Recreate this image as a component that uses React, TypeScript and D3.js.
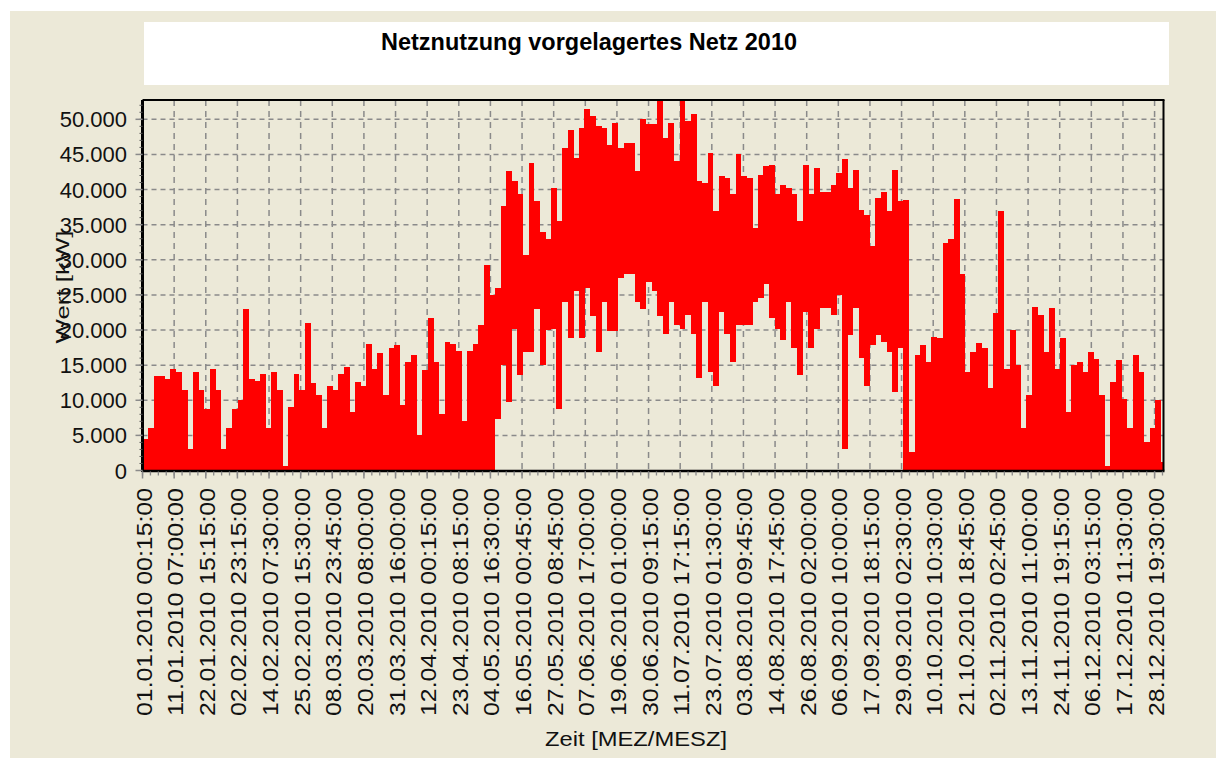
import React from "react";
import * as d3 from "d3";

const title = "Netznutzung vorgelagertes Netz 2010";
const yAxisTitle = "Wert [kW]";
const xAxisTitle = "Zeit [MEZ/MESZ]";

const binDays = 2;

// per 2-day bin: maximum of the 15-min values (kW)
const highs = [
  4500, 6000, 13500, 13500, 13000, 14500, 14000, 11500, 3000, 14000,
  11500, 8800, 14500, 11500, 3000, 6000, 8800, 10000, 23000, 13000,
  12800, 13800, 6000, 14000, 11500, 700, 9000, 13800, 11400, 21000,
  12400, 10700, 6000, 12000, 11500, 13800, 14700, 8300, 12600, 12000,
  18000, 14500, 16700, 10700, 17400, 17800,
  9300, 15500, 16400, 5000, 14300, 21700, 15500, 8000, 18300, 18000,
  17000, 7100, 17000, 18000, 20700, 29300, 25000, 26000, 37600, 42600,
  41200, 39300, 30700, 43800, 38300, 34000, 33000, 40200, 35500, 45900,
  48500, 44500, 48800, 51400, 50500, 49000, 48800, 46400, 49500, 45900,
  46600, 46600, 42600, 50000, 49300, 49300,
  52600, 47400, 49500, 44000, 52600, 49700, 50700, 41200, 41000, 45200,
  36900, 41900, 41700, 39300, 45000, 41900, 41700, 34500, 42100, 43300,
  43500, 39300, 40700, 40200, 39300, 35500, 43500, 39300, 43100, 39700,
  39700, 40700, 42400, 44300, 40200, 42800, 37100, 36400, 32000, 38800,
  39700, 36900, 42800, 38300, 38500,
  2600, 16400, 17800, 15500, 19000, 18800, 32400, 33000, 38600, 28000,
  14000, 16900, 18100, 17500, 11700, 22400, 36900, 14500, 20000, 15000,
  6000, 10700, 23300, 22100, 16900, 23100, 14500, 18800, 8300, 15000,
  15500, 14000, 16900, 15900, 10700, 700, 12600, 15700, 10200, 6000,
  16400, 14000, 4000, 6000, 10000, 1200,
];

// per 2-day bin: minimum of the 15-min values (kW)
const lows = [
  0, 0, 0, 0, 0, 0, 0, 0, 0, 0,
  0, 0, 0, 0, 0, 0, 0, 0, 0, 0,
  0, 0, 0, 0, 0, 0, 0, 0, 0, 0,
  0, 0, 0, 0, 0, 0, 0, 0, 0, 0,
  0, 0, 0, 0, 0, 0,
  0, 0, 0, 0, 0, 0, 0, 0, 0, 0,
  0, 0, 0, 0, 0, 0, 0, 7400, 15000, 9800,
  20200, 13600, 16900, 16900, 23000, 15000, 20000, 20200, 8800, 24000,
  18800, 25500, 18800, 26000, 22000, 16900, 24000, 19800, 19800, 27400,
  28000, 28000, 24000, 23000, 26900, 25500,
  22000, 19500, 24000, 20700, 20200, 22100, 19500, 13100, 24000, 14000,
  12100, 22600, 19500, 15500, 20700, 20700, 20700, 24000, 24500, 26600,
  21700, 20200, 18600, 24000, 17400, 13600, 22600, 17400, 20200, 23100,
  23100, 22100, 25000, 3100, 19300, 23100, 16000, 12100, 17800, 19300,
  18300, 16900, 11200, 17400, 0,
  0, 0, 0, 0, 0, 0, 0, 0, 0, 0,
  0, 0, 0, 0, 0, 0, 0, 0, 0, 0,
  0, 0, 0, 0, 0, 0, 0, 0, 0, 0,
  0, 0, 0, 0, 0, 0, 0, 0, 0, 0,
  0, 0, 0, 0, 0, 0,
];

const tickLabels = [
  "01.01.2010 00:15:00", "11.01.2010 07:00:00", "22.01.2010 15:15:00",
  "02.02.2010 23:15:00", "14.02.2010 07:30:00", "25.02.2010 15:30:00",
  "08.03.2010 23:45:00", "20.03.2010 08:00:00", "31.03.2010 16:00:00",
  "12.04.2010 00:15:00", "23.04.2010 08:15:00", "04.05.2010 16:30:00",
  "16.05.2010 00:45:00", "27.05.2010 08:45:00", "07.06.2010 17:00:00",
  "19.06.2010 01:00:00", "30.06.2010 09:15:00", "11.07.2010 17:15:00",
  "23.07.2010 01:30:00", "03.08.2010 09:45:00", "14.08.2010 17:45:00",
  "26.08.2010 02:00:00", "06.09.2010 10:00:00", "17.09.2010 18:15:00",
  "29.09.2010 02:30:00", "10.10.2010 10:30:00", "21.10.2010 18:45:00",
  "02.11.2010 02:45:00", "13.11.2010 11:00:00", "24.11.2010 19:15:00",
  "06.12.2010 03:15:00", "17.12.2010 11:30:00", "28.12.2010 19:30:00",
];

const yTicks = [0, 5000, 10000, 15000, 20000, 25000, 30000, 35000, 40000, 45000, 50000];
const yMaxValue = 52750;

const W = 1216;
const H = 762;
const plot = { left: 142.5, right: 1163.5, top: 100, bottom: 470.5 };

const de = d3.formatLocale({ decimal: ",", thousands: ".", grouping: [3], currency: ["", " €"] });
const fmt = de.format(",d");
const parse = d3.timeParse("%d.%m.%Y %H:%M:%S");
const yearStart = new Date(2010, 0, 1).getTime();

export default function App() {
  const x = d3.scaleLinear().domain([0, 365]).range([plot.left, plot.right]);
  const y = d3.scaleLinear().domain([0, yMaxValue]).range([plot.bottom, plot.top]);

  const labelDays = tickLabels.map((l) => ((parse(l) as Date).getTime() - yearStart) / 86400000);
  const firstDay = labelDays[0];
  const lastDay = labelDays[labelDays.length - 1];
  const step = (lastDay - firstDay) / (tickLabels.length - 1);
  const majorDays = tickLabels.map((_, i) => firstDay + i * step);
  const minorDays: number[] = [];
  for (let d = firstDay; d <= 365; d += step / 4) minorDays.push(d);
  const yMinor = d3.range(0, yMaxValue, 1000);

  const font = "'Liberation Sans', Arial, sans-serif";
  const grid = "#8a8a8a";

  return (
    <svg width={W} height={H} style={{ position: "absolute", left: 0, top: 0 }} fontFamily={font}>
      <rect x={0} y={0} width={W} height={H} fill="#ffffff" />
      <rect x={10} y={11} width={W - 10} height={747} fill="#ECE9D8" />
      <rect x={144} y={22} width={1025} height={63} fill="#ffffff" />
      <text x={589} y={50} textAnchor="middle" fontWeight="bold" fontSize={24} textLength={416} lengthAdjust="spacingAndGlyphs" fill="#000">
        {title}
      </text>

      <defs>
        <clipPath id="plotclip">
          <rect x={plot.left} y={plot.top} width={plot.right - plot.left} height={plot.bottom - plot.top} />
        </clipPath>
      </defs>

      {/* grid */}
      {yTicks.filter((t) => t > 0).map((t) => (
        <line key={"hg" + t} x1={plot.left} x2={plot.right} y1={y(t)} y2={y(t)} stroke={grid} strokeWidth={1.5} strokeDasharray="5,4" />
      ))}
      {majorDays.slice(1).map((d, i) => (
        <line key={"vg" + i} x1={x(d)} x2={x(d)} y1={plot.top} y2={plot.bottom} stroke={grid} strokeWidth={1.5} strokeDasharray="6,5" />
      ))}

      {/* data */}
      <g clipPath="url(#plotclip)" shapeRendering="crispEdges">
        {highs.map((h, i) => {
          const x0 = x(i * binDays);
          const x1 = x((i + 1) * binDays);
          const lo = lows[i];
          return (
            <rect key={"b" + i} x={x0} y={y(h)} width={x1 - x0 + 0.3} height={Math.max(1, y(lo) - y(h))} fill="#ff0000" />
          );
        })}
      </g>

      {/* frame */}
      <line x1={plot.left} x2={plot.right + 1} y1={plot.top} y2={plot.top} stroke="#000" strokeWidth={2} />
      <line x1={plot.right} x2={plot.right} y1={plot.top} y2={plot.bottom} stroke="#000" strokeWidth={2} />
      <line x1={plot.left} x2={plot.right + 1} y1={plot.bottom + 0.5} y2={plot.bottom + 0.5} stroke="#000" strokeWidth={2.5} />
      <line x1={plot.left} x2={plot.left} y1={plot.top} y2={plot.bottom + 1.5} stroke="#000" strokeWidth={3} />

      {/* y axis */}
      {yMinor.map((v) => (
        <line key={"ym" + v} x1={plot.left - 3} x2={plot.left} y1={y(v)} y2={y(v)} stroke="#555" strokeWidth={1} />
      ))}
      {yTicks.map((t) => (
        <g key={"yt" + t}>
          <line x1={plot.left - 7} x2={plot.left} y1={y(t)} y2={y(t)} stroke={grid} strokeWidth={1.5} />
          <text x={127} y={y(t) + 8} textAnchor="end" fontSize={22} fill="#111">
            {fmt(t)}
          </text>
        </g>
      ))}
      <text transform={`translate(69, 287) rotate(-90)`} textAnchor="middle" fontSize={19} textLength={113} lengthAdjust="spacingAndGlyphs" fill="#111">
        {yAxisTitle}
      </text>

      {/* x axis */}
      {minorDays.map((d, i) => (
        <line key={"xm" + i} x1={x(d)} x2={x(d)} y1={plot.bottom + 1} y2={plot.bottom + 5} stroke={grid} strokeWidth={1.3} />
      ))}
      {majorDays.map((d, i) => (
        <g key={"xt" + i}>
          <line x1={x(d)} x2={x(d)} y1={plot.bottom + 1} y2={plot.bottom + 8} stroke={grid} strokeWidth={1.5} />
          <text transform={`translate(${x(d) + 9}, 488) rotate(-90)`} textAnchor="end" fontSize={22} textLength={228} lengthAdjust="spacingAndGlyphs" fill="#111">
            {tickLabels[i]}
          </text>
        </g>
      ))}
      <text x={636} y={746} textAnchor="middle" fontSize={20} textLength={182} lengthAdjust="spacingAndGlyphs" fill="#111">
        {xAxisTitle}
      </text>
    </svg>
  );
}
